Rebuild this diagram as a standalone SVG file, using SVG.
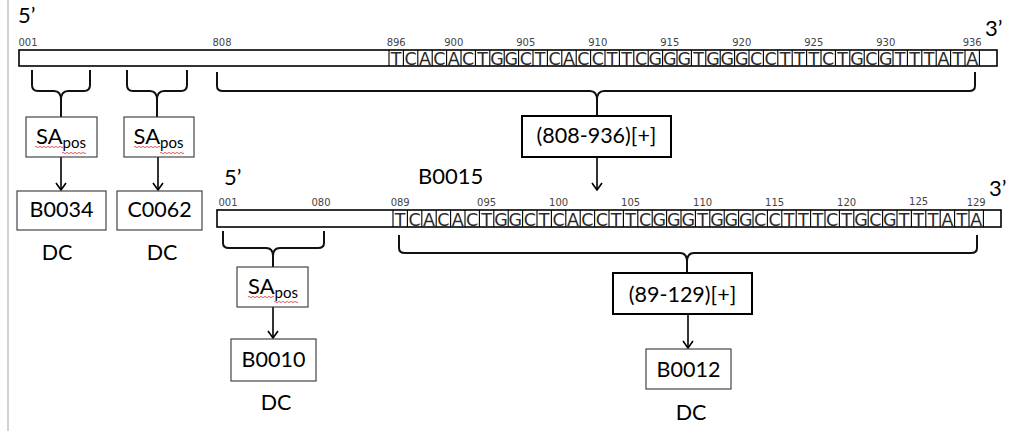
<svg xmlns="http://www.w3.org/2000/svg" width="1010" height="431" viewBox="0 0 1010 431">
<style>
.t{font-family:Lato,"Liberation Sans",sans-serif;fill:#000;}
.lbl{font-family:Lato,"Liberation Sans",sans-serif;font-size:21.5px;fill:#000;text-anchor:middle;}
.num{font-family:"DejaVu Sans",sans-serif;font-size:10px;fill:#444;text-anchor:middle;}
.seq{font-family:"DejaVu Sans",sans-serif;font-size:17.5px;fill:#2a2a2a;text-anchor:middle;}
.bar{fill:#fff;stroke:#000;stroke-width:1.6;}
.cell{fill:none;stroke:#000;stroke-width:1.1;}
.brace{fill:none;stroke:#111;stroke-width:2;}
.box{fill:#fff;stroke:#333;stroke-width:1.1;}
.bbox{fill:#fff;stroke:#000;stroke-width:2;}
.arr{stroke:#000;stroke-width:1.6;fill:none;marker-end:url(#ah);}
.wavy{fill:none;stroke:#e03030;stroke-width:0.8;}
</style>
<defs>
<marker id="ah" viewBox="0 0 12 12" refX="6" refY="11" markerWidth="12" markerHeight="12" markerUnits="userSpaceOnUse" orient="0">
<path d="M1,4 L6,11 L11,4" fill="none" stroke="#000" stroke-width="1.6"/>
</marker>
</defs>
<rect x="0" y="0" width="1010" height="431" fill="#fff"/>
<line x1="8" y1="0" x2="8" y2="431" stroke="#c4c4c4" stroke-width="1.5"/>

<g id="seq-top">
<text class="t" x="18" y="23" font-size="22">5’</text>
<text class="t" x="985" y="36" font-size="22">3’</text>
<text class="num" x="28" y="46">001</text>
<text class="num" x="222" y="46">808</text>
<text class="num" x="396.2" y="46">896</text>
<text class="num" x="453.8" y="46">900</text>
<text class="num" x="525.8" y="46">905</text>
<text class="num" x="597.8" y="46">910</text>
<text class="num" x="669.8" y="46">915</text>
<text class="num" x="741.8" y="46">920</text>
<text class="num" x="813.8" y="46">925</text>
<text class="num" x="885.8" y="46">930</text>
<text class="num" x="972.2" y="46">936</text>
<rect class="bar" x="19" y="50" width="978" height="16"/>
<path class="cell" d="M389,50V66M403.4,50V66M417.8,50V66M432.2,50V66M446.6,50V66M461,50V66M475.4,50V66M489.8,50V66M504.2,50V66M518.6,50V66M533,50V66M547.4,50V66M561.8,50V66M576.2,50V66M590.6,50V66M605,50V66M619.4,50V66M633.8,50V66M648.2,50V66M662.6,50V66M677,50V66M691.4,50V66M705.8,50V66M720.2,50V66M734.6,50V66M749,50V66M763.4,50V66M777.8,50V66M792.2,50V66M806.6,50V66M821,50V66M835.4,50V66M849.8,50V66M864.2,50V66M878.6,50V66M893,50V66M907.4,50V66M921.8,50V66M936.2,50V66M950.6,50V66M965,50V66M979.4,50V66"/>
<text class="seq" y="64.5" x="396.2 410.6 425 439.4 453.8 468.2 482.6 497 511.4 525.8 540.2 554.6 569 583.4 597.8 612.2 626.6 641 655.4 669.8 684.2 698.6 713 727.4 741.8 756.2 770.6 785 799.4 813.8 828.2 842.6 857 871.4 885.8 900.2 914.6 929 943.4 957.8 972.2">TCACACTGGCTCACCTTCGGGTGGGCCTTTCTGCGTTTATA</text>
</g>

<g id="seq-bottom">
<text class="t" x="224" y="185" font-size="22">5’</text>
<text class="t" x="418" y="184" font-size="22">B0015</text>
<text class="t" x="989" y="196" font-size="22">3’</text>
<text class="num" x="228" y="206">001</text>
<text class="num" x="321" y="206">080</text>
<text class="num" x="400.2" y="206">089</text>
<text class="num" x="486.6" y="206">095</text>
<text class="num" x="558.6" y="206">100</text>
<text class="num" x="630.6" y="206">105</text>
<text class="num" x="702.6" y="206">110</text>
<text class="num" x="774.6" y="206">115</text>
<text class="num" x="846.6" y="206">120</text>
<text class="num" x="918.6" y="205">125</text>
<text class="num" x="976.2" y="206">129</text>
<rect class="bar" x="217" y="210" width="784" height="17"/>
<path class="cell" d="M393,210V227M407.4,210V227M421.8,210V227M436.2,210V227M450.6,210V227M465,210V227M479.4,210V227M493.8,210V227M508.2,210V227M522.6,210V227M537,210V227M551.4,210V227M565.8,210V227M580.2,210V227M594.6,210V227M609,210V227M623.4,210V227M637.8,210V227M652.2,210V227M666.6,210V227M681,210V227M695.4,210V227M709.8,210V227M724.2,210V227M738.6,210V227M753,210V227M767.4,210V227M781.8,210V227M796.2,210V227M810.6,210V227M825,210V227M839.4,210V227M853.8,210V227M868.2,210V227M882.6,210V227M897,210V227M911.4,210V227M925.8,210V227M940.2,210V227M954.6,210V227M969,210V227M983.4,210V227"/>
<text class="seq" y="225.5" x="400.2 414.6 429 443.4 457.8 472.2 486.6 501 515.4 529.8 544.2 558.6 573 587.4 601.8 616.2 630.6 645 659.4 673.8 688.2 702.6 717 731.4 745.8 760.2 774.6 789 803.4 817.8 832.2 846.6 861 875.4 889.8 904.2 918.6 933 947.4 961.8 976.2">TCACACTGGCTCACCTTCGGGTGGGCCTTTCTGCGTTTATA</text>
</g>

<g id="braces">
<path class="brace" d="M32,70V85Q32,91 38,91H54Q61,91 61,100V117M90,70V85Q90,91 84,91H68Q61,91 61,100"/>
<path class="brace" d="M127,70V85Q127,91 133,91H150Q157,91 157,100V117M187,70V85Q187,91 181,91H164Q157,91 157,100"/>
<path class="brace" d="M217,72V86Q217,91 223,91H590Q597,91 597,100V116M975,72V86Q975,91 969,91H604Q597,91 597,100"/>
<path class="brace" d="M223,231V243Q223,248 229,248H266Q273,248 273,256V267M324,231V243Q324,248 318,248H280Q273,248 273,256"/>
<path class="brace" d="M399,235V248Q399,253 405,253H680Q687,253 687,262V273M977,235V248Q977,253 971,253H694Q687,253 687,262"/>
</g>

<g id="connectors">
<line class="arr" x1="61" y1="157" x2="61" y2="190"/>
<line class="arr" x1="158" y1="157" x2="158" y2="190"/>
<line class="arr" x1="597" y1="157" x2="597" y2="190"/>
<line class="arr" x1="273" y1="307" x2="273" y2="338"/>
<line class="arr" x1="688" y1="314" x2="688" y2="348"/>
</g>

<g id="sa1">
<rect class="box" x="26" y="117" width="71" height="40"/>
<text class="t" x="61" y="144" font-size="22" text-anchor="middle">SA<tspan font-size="15" dy="4">pos</tspan></text>
<path class="wavy" d="M35,147q1,-1.2 2,0t2,0t2,0t2,0t2,0t2,0t2,0t2,0t2,0t2,0t2,0t2,0t2,0t2,0M62,153q1,-1.2 2,0t2,0t2,0t2,0t2,0t2,0t2,0t2,0t2,0t2,0t2,0t2,0"/>
</g>
<g id="sa2">
<rect class="box" x="124" y="117" width="70" height="40"/>
<text class="t" x="158.5" y="144" font-size="22" text-anchor="middle">SA<tspan font-size="15" dy="4">pos</tspan></text>
<path class="wavy" d="M134,147q1,-1.2 2,0t2,0t2,0t2,0t2,0t2,0t2,0t2,0t2,0t2,0t2,0t2,0t2,0M160,153q1,-1.2 2,0t2,0t2,0t2,0t2,0t2,0t2,0t2,0t2,0t2,0t2,0t2,0"/>
</g>
<g id="b0034">
<rect class="box" x="17" y="191" width="89" height="39"/>
<text class="lbl" x="61.5" y="217">B0034</text>
<text class="lbl" x="57" y="260">DC</text>
</g>
<g id="c0062">
<rect class="box" x="117" y="191" width="85" height="39"/>
<text class="lbl" x="159.5" y="217">C0062</text>
<text class="lbl" x="162" y="260">DC</text>
</g>
<g id="range1">
<rect class="bbox" x="522" y="116" width="149" height="41"/>
<text class="lbl" x="596.5" y="143">(808-936)[+]</text>
</g>
<g id="sa3">
<rect class="box" x="237" y="267" width="71" height="40"/>
<text class="t" x="273" y="294" font-size="22" text-anchor="middle">SA<tspan font-size="15" dy="4">pos</tspan></text>
<path class="wavy" d="M248,297q1,-1.2 2,0t2,0t2,0t2,0t2,0t2,0t2,0t2,0t2,0t2,0t2,0t2,0t2,0M274,302q1,-1.2 2,0t2,0t2,0t2,0t2,0t2,0t2,0t2,0t2,0t2,0t2,0t2,0"/>
</g>
<g id="b0010">
<rect class="box" x="231" y="339" width="85" height="42"/>
<text class="lbl" x="273.5" y="367">B0010</text>
<text class="lbl" x="276" y="410">DC</text>
</g>
<g id="range2">
<rect class="bbox" x="613" y="273" width="139" height="41"/>
<text class="lbl" x="682.5" y="302">(89-129)[+]</text>
</g>
<g id="b0012">
<rect class="box" x="646" y="349" width="85" height="40"/>
<text class="lbl" x="688.5" y="377">B0012</text>
<text class="lbl" x="691" y="420">DC</text>
</g>
</svg>
